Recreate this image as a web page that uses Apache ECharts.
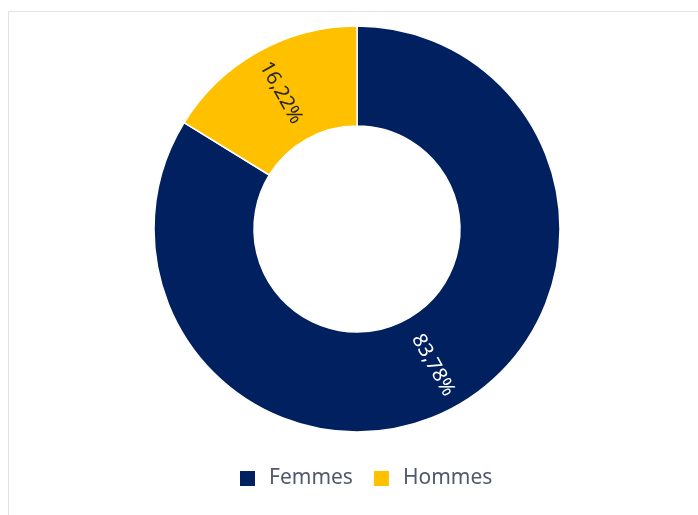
<!DOCTYPE html>
<html style="height: 100%; width: 100%">
<head>
  <meta charset="utf-8" />
</head>
<body style="height: 100%; width: 100%; margin: 0; background: #fff;">
  <div id="chart-panel" style="height: 515px; width: 698px;"></div>
  <script type="text/javascript" src="https://cdn.jsdelivr.net/npm/echarts@6/dist/echarts.min.js"></script>
  <script type="text/javascript">
    var categories = ["Femmes", "Hommes"];
    var counts = [31, 6];
    var colors = ["#002060", "#FFC000"];
    var labelColors = ["#FFFFFF", "#262626"];

    var myChart = echarts.init(document.getElementById("chart-panel"));

    var pieData = categories.map(function (name, i) {
      return {
        name: name,
        value: counts[i],
        itemStyle: { color: colors[i] },
        label: { color: labelColors[i] }
      };
    });

    var option = {
      animation: false,
      backgroundColor: "#fff",
      graphic: [
        {
          type: "rect",
          shape: { x: 8.5, y: 11.5, width: 720, height: 540 },
          style: { fill: "none", stroke: "#dde3ec", lineWidth: 1 },
          silent: true
        }
      ],
      legend: {
        data: categories,
        left: 238,
        top: 468,
        padding: 0,
        icon: "rect",
        itemWidth: 17,
        itemHeight: 17,
        itemGap: 19,
        textStyle: {
          fontFamily: "Noto Sans",
          fontSize: 21,
          color: "#505a6c",
          padding: [0, 0, 0, 8]
        }
      },
      series: [
        {
          type: "pie",
          center: [357, 229],
          radius: [103, 203],
          startAngle: 90,
          clockwise: true,
          avoidLabelOverlap: false,
          itemStyle: { borderColor: "#fff", borderWidth: 1.5 },
          label: {
            show: true,
            position: "inside",
            rotate: "radial",
            fontFamily: "Noto Sans",
            fontSize: 20,
            formatter: function (p) {
              return p.percent.toFixed(2).replace(".", ",") + "%";
            }
          },
          labelLine: { show: false },
          emphasis: { disabled: true },
          data: pieData
        }
      ]
    };

    myChart.setOption(option);
  </script>
</body>
</html>
